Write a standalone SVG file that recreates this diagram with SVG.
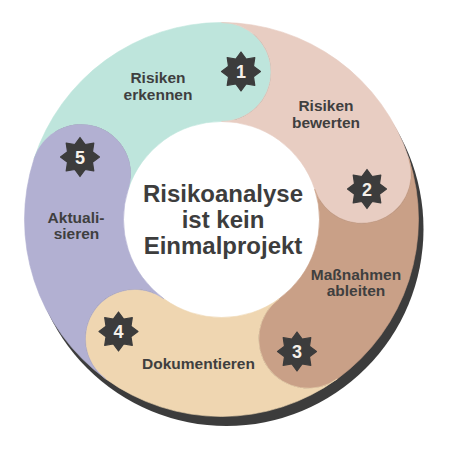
<svg xmlns="http://www.w3.org/2000/svg" width="450" height="450" viewBox="0 0 450 450">
  <style>
    .lbl { font-family: "Liberation Sans", Arial, sans-serif; font-weight: bold; font-size: 15.5px; fill: #3f3f3f; text-anchor: middle; }
    .title { font-family: "Liberation Sans", Arial, sans-serif; font-weight: bold; font-size: 24px; fill: #3d3d3d; text-anchor: middle; }
    .num { font-family: "Liberation Sans", Arial, sans-serif; font-weight: bold; font-size: 18px; fill: #f6f1ea; text-anchor: middle; }
    .star { fill: #3c3c3c; stroke: #3c3c3c; stroke-width: 1.2; stroke-linejoin: round; }
    .seg { stroke-width: 0.6; }
  </style>
  <defs>
    <path id="star" d="M0,-19.5 L5.17,-12.47 L13.79,-13.79 L12.47,-5.17 L19.5,0 L12.47,5.17 L13.79,13.79 L5.17,12.47 L0,19.5 L-5.17,12.47 L-13.79,13.79 L-12.47,5.17 L-19.5,0 L-12.47,-5.17 L-13.79,-13.79 L-5.17,-12.47 Z"/>
  </defs>
  <rect width="450" height="450" fill="#ffffff"/>
  <circle id="shadow" cx="226.5" cy="229" r="197" fill="#3c3c3c"/>
  <circle cx="221.5" cy="219.5" r="100" fill="#ffffff"/>

  <g id="step1">
    <path class="seg" fill="#bee5dc" stroke="#bee5dc" d="M 34.14 158.62 A 197 197 0 0 1 221.5 22.5 A 49.5 49.5 0 0 1 221.5 121.5 A 98 98 0 0 0 128.30 189.22 A 49.5 49.5 0 0 0 34.14 158.62 Z"/>
    <text class="lbl" x="158" y="83">Risiken</text>
    <text class="lbl" x="158" y="99.5">erkennen</text>
    <use href="#star" class="star" x="241" y="71.5"/>
    <text class="num" x="241" y="78">1</text>
  </g>

  <g id="step2">
    <path class="seg" fill="#e8cdc2" stroke="#e8cdc2" d="M 221.5 22.5 A 197 197 0 0 1 408.86 158.62 A 49.5 49.5 0 0 1 314.70 189.22 A 98 98 0 0 0 221.5 121.5 A 49.5 49.5 0 0 0 221.5 22.5 Z"/>
    <text class="lbl" x="326" y="111">Risiken</text>
    <text class="lbl" x="326" y="127.5">bewerten</text>
    <use href="#star" class="star" x="367" y="189"/>
    <text class="num" x="367" y="195.5">2</text>
  </g>

  <g id="step3">
    <path class="seg" fill="#c9a087" stroke="#c9a087" d="M 408.86 158.62 A 197 197 0 0 1 337.29 378.88 A 49.5 49.5 0 0 1 279.10 298.78 A 98 98 0 0 0 314.70 189.22 A 49.5 49.5 0 0 0 408.86 158.62 Z"/>
    <text class="lbl" x="356" y="280">Maßnahmen</text>
    <text class="lbl" x="356" y="296">ableiten</text>
    <use href="#star" class="star" x="297" y="351.5"/>
    <text class="num" x="297" y="358">3</text>
  </g>

  <g id="step4">
    <path class="seg" fill="#efd6b1" stroke="#efd6b1" d="M 337.29 378.88 A 197 197 0 0 1 105.71 378.88 A 49.5 49.5 0 0 1 163.90 298.78 A 98 98 0 0 0 279.10 298.78 A 49.5 49.5 0 0 0 337.29 378.88 Z"/>
    <text class="lbl" x="198.5" y="368.5">Dokumentieren</text>
    <use href="#star" class="star" x="118.5" y="331.5"/>
    <text class="num" x="118.5" y="338">4</text>
  </g>

  <g id="step5">
    <path class="seg" fill="#b2b0d2" stroke="#b2b0d2" d="M 105.71 378.88 A 197 197 0 0 1 34.14 158.62 A 49.5 49.5 0 0 1 128.30 189.22 A 98 98 0 0 0 163.90 298.78 A 49.5 49.5 0 0 0 105.71 378.88 Z"/>
    <text class="lbl" x="76" y="222.5">Aktuali-</text>
    <text class="lbl" x="76.5" y="238.5">sieren</text>
    <use href="#star" class="star" x="80" y="157"/>
    <text class="num" x="80" y="163.5">5</text>
  </g>

  <g id="center">
    <text class="title" x="223" y="202">Risikoanalyse</text>
    <text class="title" x="223" y="228">ist kein</text>
    <text class="title" x="223" y="254">Einmalprojekt</text>
  </g>
</svg>
